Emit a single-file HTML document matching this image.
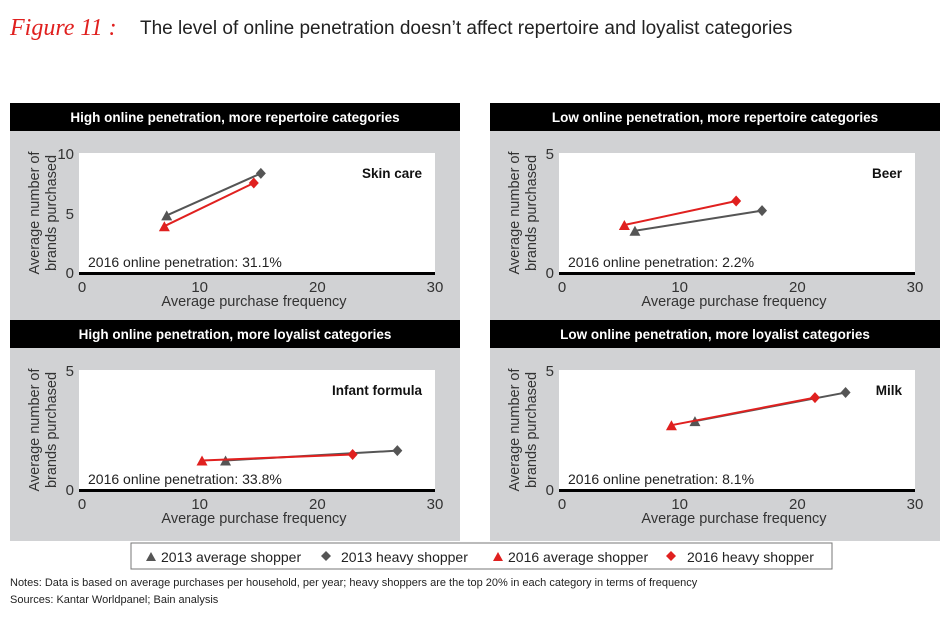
<!DOCTYPE html><html><head><meta charset="utf-8"><style>
body{margin:0;width:950px;height:615px;background:#fff;overflow:hidden;font-family:"Liberation Sans",sans-serif}
</style></head><body>
<svg id="s" width="950" height="615" xmlns="http://www.w3.org/2000/svg" font-family="Liberation Sans, sans-serif">
<text x="10" y="35" font-family="Liberation Serif, serif" font-style="italic" font-size="24" fill="#e0201f">Figure 11 :</text>
<text x="140" y="34" font-size="19" fill="#222">The level of online penetration doesn’t affect repertoire and loyalist categories</text>
<rect x="131" y="543" width="701" height="26" fill="#fff" stroke="#777" stroke-width="1"/>
<g font-size="14" fill="#222">
<polygon points="146,561 151,552 156,561" fill="#555"/><text x="161" y="562">2013 average shopper</text>
<polygon points="326,551 331,556 326,561 321,556" fill="#555"/><text x="341" y="562">2013 heavy shopper</text>
<polygon points="493,561 498,552 503,561" fill="#e0201f"/><text x="508" y="562">2016 average shopper</text>
<polygon points="671,551 676,556 671,561 666,556" fill="#e0201f"/><text x="687" y="562">2016 heavy shopper</text>
</g>
<text x="10" y="586" font-size="11" fill="#222">Notes: Data is based on average purchases per household, per year; heavy shoppers are the top 20% in each category in terms of frequency</text>
<text x="10" y="603" font-size="11" fill="#222">Sources: Kantar Worldpanel; Bain analysis</text>
</svg>
<script>
var s=document.getElementById('s'),h='';
var P=[
{x:10,y:103,t:'High online penetration, more repertoire categories',n:'Skin care',p:'31.1%',m:10,d:[[7.2,4.8],[15.2,8.3],[7,3.9],[14.6,7.5]]},
{x:490,y:103,t:'Low online penetration, more repertoire categories',n:'Beer',p:'2.2%',m:5,d:[[6.2,1.76],[17,2.6],[5.3,2.0],[14.8,3.0]]},
{x:10,y:320,t:'High online penetration, more loyalist categories',n:'Infant formula',p:'33.8%',m:5,d:[[12.2,1.23],[26.8,1.64],[10.2,1.23],[23,1.48]]},
{x:490,y:320,t:'Low online penetration, more loyalist categories',n:'Milk',p:'8.1%',m:5,d:[[11.3,2.87],[24.1,4.06],[9.3,2.7],[21.5,3.85]]}];
P.forEach(function(q){
var X=q.x,Y=q.y;
h+='<rect x="'+X+'" y="'+Y+'" width="450" height="221" fill="#d1d2d4"/>';
h+='<rect x="'+X+'" y="'+Y+'" width="450" height="28" fill="#000"/>';
h+='<text x="'+(X+225)+'" y="'+(Y+19)+'" text-anchor="middle" font-size="13.5" font-weight="bold" fill="#fff">'+q.t+'</text>';
var L=X+69,R=X+425,T=Y+50,B=Y+170,x0=X+72,x1=X+425;
h+='<rect x="'+L+'" y="'+T+'" width="'+(R-L)+'" height="'+(B-T)+'" fill="#fff"/>';
h+='<rect x="'+L+'" y="'+(B-1)+'" width="'+(R-L)+'" height="3" fill="#000"/>';
function px(v){return x0+(x1-x0)*v/30}function py(v){return B-(B-T)*v/q.m}
[0,10,20,30].forEach(function(v){h+='<text x="'+px(v)+'" y="'+(B+19)+'" text-anchor="middle" font-size="15" fill="#333">'+v+'</text>'});
h+='<text x="'+(X+64)+'" y="'+(B+5)+'" text-anchor="end" font-size="15" fill="#333">0</text>';
h+='<text x="'+(X+64)+'" y="'+(T+6)+'" text-anchor="end" font-size="15" fill="#333">'+q.m+'</text>';
if(q.m==10)h+='<text x="'+(X+64)+'" y="'+(py(5)+6)+'" text-anchor="end" font-size="15" fill="#333">5</text>';
h+='<text x="'+(L+175)+'" y="'+(B+33)+'" text-anchor="middle" font-size="14.5" fill="#333">Average purchase frequency</text>';
var cy=(T+B)/2;
h+='<text transform="translate('+(X+29)+','+cy+') rotate(-90)" text-anchor="middle" font-size="14.5" fill="#333">Average number of</text>';
h+='<text transform="translate('+(X+46)+','+cy+') rotate(-90)" text-anchor="middle" font-size="14.5" fill="#333">brands purchased</text>';
h+='<text x="'+(R-13)+'" y="'+(T+25)+'" text-anchor="end" font-size="13.5" font-weight="bold" fill="#111">'+q.n+'</text>';
h+='<text x="'+(L+9)+'" y="'+(B-6)+'" font-size="14" fill="#222">2016 online penetration: '+q.p+'</text>';
var d=q.d.map(function(a){return[px(a[0]),py(a[1])]});
function ln(a,b,c){h+='<line x1="'+a[0]+'" y1="'+a[1]+'" x2="'+b[0]+'" y2="'+b[1]+'" stroke="'+c+'" stroke-width="2"/>'}
function tri(a,c){h+='<polygon points="'+(a[0]-5.5)+','+(a[1]+5)+' '+a[0]+','+(a[1]-5)+' '+(a[0]+5.5)+','+(a[1]+5)+'" fill="'+c+'"/>'}
function dia(a,c){h+='<polygon points="'+a[0]+','+(a[1]-5.5)+' '+(a[0]+5)+','+a[1]+' '+a[0]+','+(a[1]+5.5)+' '+(a[0]-5)+','+a[1]+'" fill="'+c+'"/>'}
ln(d[0],d[1],'#555');tri(d[0],'#555');dia(d[1],'#555');
ln(d[2],d[3],'#e0201f');tri(d[2],'#e0201f');dia(d[3],'#e0201f');
});
s.insertAdjacentHTML('beforeend',h);
</script>
</body></html>
